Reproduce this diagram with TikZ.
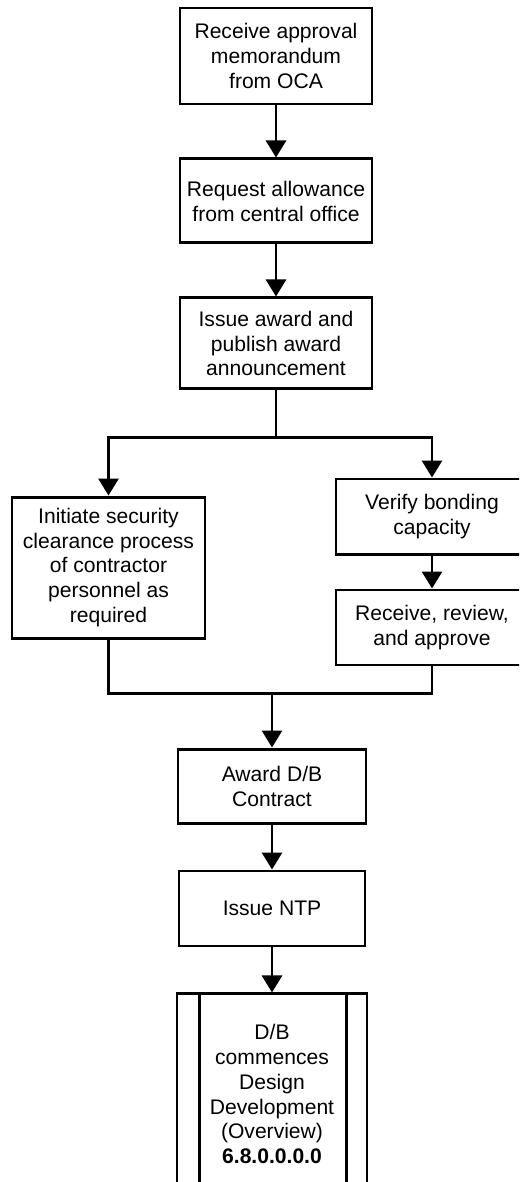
\documentclass[tikz,border=0pt]{standalone}
\usepackage{fontspec}
\setmainfont{Liberation Sans}
\usetikzlibrary{arrows.meta,positioning,calc}

\begin{document}
\begin{tikzpicture}[>={Triangle[width=0.4cm,length=0.34cm]},
    line width=1.7pt,
    box/.style={draw,line width=1.7pt,align=center,inner sep=2pt,
      minimum width=3.84cm,font=\fontsize{12}{14.2}\selectfont},
    link/.style={->,line width=1.7pt}]
    \path[use as bounding box,clip] (0,0) rectangle (10.38,-23.64);
    \node[box,minimum height=1.92cm] (recv) at (5.52,-1.12) {Receive approval\\memorandum\\from OCA};
    \node[box,minimum height=1.68cm,below=1.04cm of recv] (req) {Request allowance\\from central office};
    \node[box,minimum height=1.82cm,below=1.04cm of req] (issue) {Issue award and\\publish award\\announcement};
    \node[box,minimum width=3.86cm,minimum height=2.82cm] (sec) at (2.17,-11.35)
      {Initiate security\\clearance process\\of contractor\\personnel as\\required};
    \node[box,minimum height=1.5cm] (verify) at (8.64,-10.33) {Verify bonding\\capacity};
    \node[box,minimum height=1.5cm,below=0.66cm of verify] (approve) {Receive, review,\\and approve};
    \node[box,minimum width=3.76cm,minimum height=1.48cm] (award) at (5.44,-15.72) {Award D/B\\Contract};
    \node[box,minimum width=3.72cm,minimum height=1.5cm,below=0.9cm of award] (ntp) {Issue NTP};
    \node[box,minimum width=3.8cm,minimum height=4.0cm,below=0.9cm of ntp] (dev)
      {D/B\\commences\\Design\\Development\\(Overview)\\\textbf{6.8.0.0.0.0}};
    \draw ([xshift=0.48cm]dev.north west) -- ([xshift=0.48cm]dev.south west);
    \draw ([xshift=-0.44cm]dev.north east) -- ([xshift=-0.44cm]dev.south east);
    % main line
    \draw[link] (recv) -- (req);
    \draw[link] (req) -- (issue);
    \draw (issue.south) -- ++(0,-0.94) coordinate (split);
    \draw[link] (split) -| (sec.north);
    \draw[link] (split) -| (verify.north);
    \draw[link] (verify) -- (approve);
    \coordinate (join) at ($(award.north)+(0,1.08)$);
    \draw (sec.south) |- (join) -| (approve.south);
    \draw[link] (join) -- (award.north);
    \draw[link] (award) -- (ntp);
    \draw[link] (ntp) -- (dev);
  \end{tikzpicture}
\end{document}
